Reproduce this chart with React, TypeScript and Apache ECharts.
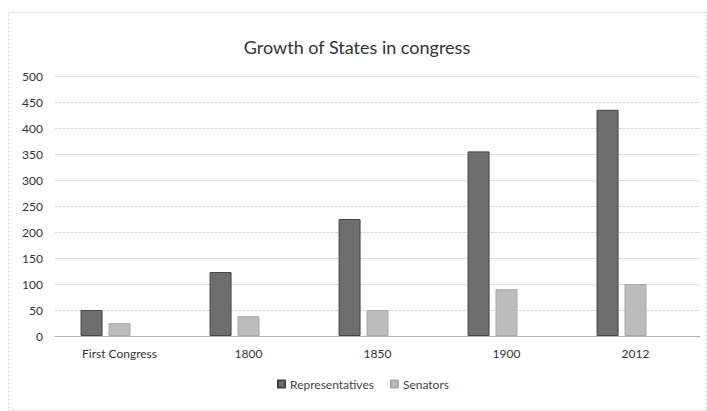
import React, { useEffect, useRef } from "react";
import * as echarts from "echarts";

const categories = ["First Congress", "1800", "1850", "1900", "2012"];
const representatives = [50, 123, 225, 355, 435];
const senators = [25, 38, 50, 90, 100];
const yTicks = { min: 0, max: 500, interval: 50 };

export default function App() {
  const ref = useRef<HTMLDivElement>(null);
  useEffect(() => {
    const chart = echarts.init(ref.current!, undefined, { renderer: "svg" });
    const font = "Lato, 'Open Sans', sans-serif";
    chart.setOption({
      animation: false,
      backgroundColor: "#ffffff",
      textStyle: { fontFamily: font },
      title: {
        text: "Growth of States in congress",
        left: 352,
        textAlign: "center",
        top: 33,
        textStyle: { fontFamily: font, fontSize: 18, fontWeight: "normal", color: "#333" },
      },
      graphic: [
        {
          type: "rect",
          shape: { x: 8.5, y: 12.5, width: 698, height: 398 },
          style: { fill: "none", stroke: "#d0d0d0", lineWidth: 1, lineDash: [2, 2] },
          silent: true,
        },
      ],
      legend: {
        data: ["Representatives", "Senators"],
        bottom: 16,
        left: 272,
        icon: "rect",
        itemWidth: 7,
        itemHeight: 7,
        itemGap: 16,
        textStyle: { fontFamily: font, fontSize: 12, color: "#444" },
      },
      grid: { left: 55, right: 7, top: 76, bottom: 75, containLabel: false },
      xAxis: {
        type: "category",
        data: categories,
        axisLine: { lineStyle: { color: "#b0b0b0" } },
        axisTick: { show: false },
        axisLabel: { fontFamily: font, fontSize: 12, color: "#333", margin: 11 },
      },
      yAxis: {
        type: "value",
        min: yTicks.min,
        max: yTicks.max,
        interval: yTicks.interval,
        axisLine: { show: false },
        axisTick: { show: false },
        axisLabel: { fontFamily: font, fontSize: 12, color: "#333", margin: 12 },
        splitLine: { lineStyle: { color: "#d4d4d4", type: [3, 1] } },
      },
      series: [
        {
          name: "Representatives",
          type: "bar",
          data: representatives,
          barWidth: 22,
          barGap: "27%",
          itemStyle: { color: "#6e6e6e", borderColor: "#444", borderWidth: 1 },
        },
        {
          name: "Senators",
          type: "bar",
          data: senators,
          barWidth: 22,
          barGap: "27%",
          itemStyle: { color: "#bcbcbc", borderColor: "#a8a8a8", borderWidth: 1 },
        },
        {
          name: "blank",
          type: "bar",
          data: categories.map(() => null),
          barWidth: 22,
          barGap: "27%",
          itemStyle: { color: "transparent" },
        },
      ],
    });
    return () => chart.dispose();
  }, []);
  return (
    <div
      ref={ref}
      style={{ position: "fixed", left: 0, top: 0, width: 707, height: 411 }}
    />
  );
}
